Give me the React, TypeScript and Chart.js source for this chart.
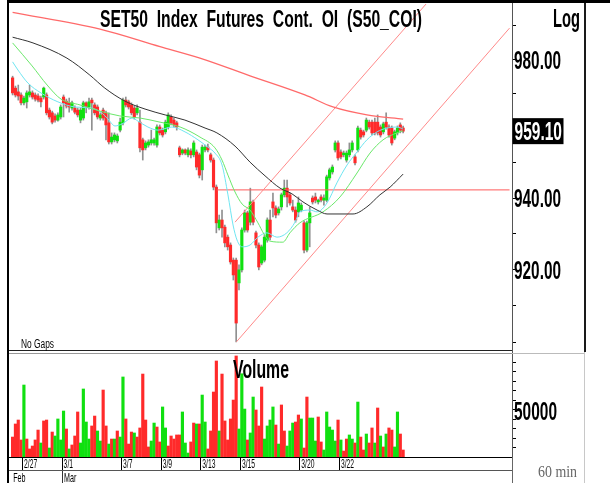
import React, { useEffect, useRef } from 'react';
import { Chart, registerables } from 'chart.js';

Chart.register(...registerables);

// ---------- data (hourly bars) ----------
const OPEN = [
  974.6, 971.6, 970.5, 969.6, 967.3, 967.6, 969.6, 970.2, 969.6, 969.3,
  968.7, 969.0, 969.6, 965.2, 964.4, 963.5, 962.3, 963.2, 969.0, 967.8,
  967.3, 965.8, 965.8, 965.2, 962.3, 962.9, 967.3, 966.1, 968.1, 966.7,
  966.1, 962.9, 965.2, 964.4, 961.5, 956.0, 956.6, 956.3, 959.4, 961.5,
  968.1, 967.6, 966.7, 965.8, 964.4, 961.7, 956.6, 954.3, 955.1, 955.7,
  955.7, 955.1, 960.3, 959.4, 958.9, 960.3, 963.2, 962.3, 961.5, 954.3,
  952.8, 953.7, 952.3, 953.4, 952.3, 953.1, 952.3, 948.0, 953.7, 954.5,
  952.3, 950.8, 943.1, 931.6, 933.8, 931.8, 929.0, 926.8, 922.6, 922.6,
  916.3, 919.9, 931.0, 935.8, 933.2, 938.9, 930.2, 926.8, 921.8, 922.6,
  928.2, 933.8, 938.9, 937.2, 935.8, 937.5, 940.9, 942.8, 940.9, 937.5,
  936.6, 936.1, 936.6, 933.0, 925.4, 933.0, 940.0, 940.3, 938.9, 940.3,
  939.4, 939.4, 945.7, 947.4, 953.7, 955.7, 953.1, 952.3, 950.8, 952.3,
  953.7, 951.7, 953.7, 959.4, 958.9, 959.4, 961.7, 961.7, 961.7, 961.7,
  960.3, 958.9, 961.7, 960.3, 960.0, 957.1, 958.6, 960.9, 960.0,
];
const HIGH = [
  975.1, 972.2, 972.5, 970.2, 969.3, 970.8, 972.5, 970.8, 970.2, 969.9,
  969.3, 971.9, 970.2, 965.8, 964.9, 964.1, 964.4, 966.7, 969.6, 968.4,
  968.7, 967.8, 966.4, 965.8, 965.8, 967.8, 967.6, 968.7, 968.7, 967.3,
  966.7, 964.4, 965.8, 964.9, 964.4, 958.6, 958.6, 958.3, 962.9, 968.7,
  969.0, 968.1, 967.3, 966.4, 966.7, 965.2, 957.1, 956.3, 956.6, 959.4,
  957.1, 960.9, 960.9, 960.0, 962.3, 964.4, 963.8, 962.9, 962.0, 954.8,
  954.0, 954.0, 954.3, 954.0, 956.3, 953.7, 952.8, 955.1, 955.1, 955.4,
  952.8, 951.4, 943.7, 935.2, 936.6, 932.4, 929.6, 927.4, 923.2, 923.2,
  921.3, 931.6, 936.6, 936.3, 942.8, 939.4, 930.7, 927.4, 926.8, 929.6,
  934.4, 936.6, 941.4, 937.8, 937.5, 941.4, 945.1, 945.1, 941.4, 939.4,
  937.5, 940.3, 938.6, 933.5, 933.5, 937.5, 940.6, 941.4, 939.7, 940.9,
  940.9, 946.5, 948.5, 949.4, 956.3, 956.3, 953.7, 953.4, 953.4, 955.7,
  956.3, 952.3, 960.6, 960.0, 959.4, 962.9, 962.3, 962.3, 962.9, 963.8,
  960.9, 961.7, 964.4, 960.9, 960.6, 959.4, 960.6, 961.5, 960.6,
];
const LOW = [
  969.6, 969.0, 968.1, 966.7, 966.7, 965.8, 969.0, 968.4, 967.8, 967.6,
  966.1, 968.4, 963.8, 962.6, 961.2, 961.7, 962.0, 962.6, 963.2, 965.8,
  964.6, 965.2, 964.1, 963.2, 961.5, 962.3, 964.4, 965.5, 959.4, 963.8,
  962.6, 962.3, 962.3, 956.6, 955.4, 955.4, 956.0, 955.7, 958.9, 960.9,
  966.1, 965.5, 963.8, 962.6, 963.8, 953.1, 950.8, 953.7, 954.5, 955.1,
  955.1, 954.5, 958.0, 957.4, 958.3, 959.7, 960.9, 960.3, 959.4, 951.7,
  952.3, 952.3, 951.7, 951.4, 951.7, 948.0, 945.7, 945.1, 953.1, 953.1,
  950.2, 942.3, 930.2, 931.0, 929.0, 926.3, 925.4, 921.5, 917.1, 900.2,
  914.4, 919.3, 930.4, 930.4, 932.4, 932.4, 926.0, 919.9, 921.3, 922.1,
  927.6, 928.2, 934.7, 934.4, 935.2, 936.6, 940.3, 937.5, 938.0, 936.1,
  933.2, 934.7, 936.1, 924.6, 924.9, 926.3, 938.3, 938.6, 938.3, 938.9,
  938.0, 938.9, 945.1, 946.8, 953.1, 950.8, 951.1, 951.7, 950.2, 951.7,
  953.1, 949.4, 953.1, 956.8, 957.4, 958.9, 959.7, 958.0, 958.0, 958.0,
  957.4, 958.3, 959.7, 957.4, 955.1, 956.6, 958.0, 958.6, 958.6,
];
const CLOSE = [
  970.2, 969.6, 969.3, 967.3, 968.7, 970.2, 970.5, 969.0, 968.4, 968.1,
  967.6, 971.6, 964.4, 963.2, 961.7, 962.3, 963.8, 966.1, 967.3, 966.4,
  966.1, 967.3, 964.6, 963.8, 965.2, 967.3, 966.1, 967.6, 967.3, 964.4,
  963.2, 963.8, 962.9, 960.9, 956.0, 957.4, 958.0, 957.7, 961.7, 968.1,
  966.7, 966.1, 964.4, 963.2, 965.8, 954.3, 953.7, 955.7, 956.0, 956.6,
  956.6, 960.3, 958.6, 958.0, 961.7, 963.8, 961.5, 960.9, 960.3, 952.3,
  953.7, 952.8, 953.7, 952.3, 955.7, 948.8, 946.5, 954.5, 954.5, 953.7,
  950.8, 943.1, 933.0, 933.8, 931.6, 927.4, 926.3, 922.1, 918.5, 905.3,
  919.9, 931.0, 935.8, 931.0, 938.9, 933.2, 926.8, 920.7, 926.3, 929.0,
  933.8, 929.0, 937.2, 935.2, 936.9, 940.9, 942.8, 940.3, 938.6, 936.6,
  933.8, 938.6, 938.0, 925.4, 933.0, 935.8, 938.9, 939.4, 939.4, 939.4,
  940.0, 946.0, 948.0, 948.8, 955.7, 951.4, 951.7, 952.8, 952.8, 953.7,
  955.7, 950.0, 960.0, 957.4, 958.0, 962.3, 960.3, 958.6, 958.6, 958.6,
  958.0, 961.2, 960.3, 958.0, 955.7, 958.9, 960.0, 959.4, 959.1,
];
const VOLUME = [
  21100, 34900, 39100, 18000, 76100, 19000, 8500, 11600, 18000, 28500,
  14800, 38100, 39100, 9500, 26400, 22200, 40200, 18000, 48600, 29600,
  8500, 12700, 22200, 47600, 14800, 71900, 37000, 19000, 32800, 43300,
  27500, 16900, 70800, 32800, 13700, 19000, 19000, 27500, 21100, 84600,
  40200, 13700, 26400, 25400, 21100, 30700, 87700, 39100, 10600, 16900,
  35900, 31700, 15900, 52900, 30700, 11600, 22200, 19000, 23300, 23300,
  47600, 14800, 4200, 15900, 35900, 34900, 34900, 65500, 37000, 8500,
  27500, 68700, 101500, 27500, 87700, 38100, 18000, 40200, 60200, 106800,
  29600, 88000, 50700, 18000, 25400, 63400, 49700, 32800, 74000, 19000,
  32800, 39100, 52900, 33800, 13700, 55000, 27500, 11600, 27500, 35900,
  37000, 44400, 40200, 9500, 63400, 41200, 41200, 16900, 42300, 15900,
  7400, 47600, 31700, 28500, 16900, 39100, 18000, 6300, 19000, 23300,
  19000, 14800, 58100, 21100, 7400, 24300, 14800, 30700, 14800, 51800,
  22200, 10600, 24300, 30700, 28500, 10600, 47600, 24300, 7400,
];
// g = up bar, r = down bar (colour of each volume bar)
const VOLUME_DIR = (
  'rrrrgrrrrr' + 'grrgrggggr' + 'grrrggggrr' + 'ggrrgrgrgg' + 'rrrgrrrrrg' +
  'grrggrrrrr' + 'gggrrgrggr' + 'rrrgrrrrrr' + 'gggrggrrrg' + 'gggrgrrggg' +
  'rrgrrgggrr' + 'gggggrgrrg' + 'grgrrgrrgr' + 'grgrrggrr'
).split('');

// moving averages, sampled (bar index -> value)
const MA_LONG_X = [0, 30.9, 52.1, 66.2, 83.9, 103.3, 113.2, 125.2, 138];
const MA_LONG_Y = [994.0, 989.0, 983.8, 980.4, 975.2, 969.6, 966.1, 963.8, 962.6];
const MA_MID_X = [0, 7.2, 19.2, 27.3, 32.6, 39.7, 46.8, 53.9, 60.9, 68.0, 72.2, 78.6, 83.9, 89.2, 94.5, 98.7, 102.6, 107.6, 111.1, 120.3, 125.2, 129.8, 133.4, 138];
const MA_MID_Y = [986.6, 984.9, 980.4, 975.4, 971.6, 967.8, 965.5, 963.8, 962.3, 960.0, 958.6, 954.8, 950.2, 946.3, 942.8, 941.2, 938.9, 936.6, 935.5, 935.5, 937.5, 940.9, 943.1, 946.8];
const MA_GREEN_X = [0, 6.9, 12.2, 17.1, 23.8, 30.9, 37.9, 45.0, 52.1, 59.2, 66.2, 71.5, 74.0, 76.1, 78.6, 81.1, 83.9, 86.7, 88.8, 90.9, 95.5, 98.0, 101.5, 109.7, 115.7, 121.7, 126.3, 130.9, 135.8, 138];
const MA_GREEN_Y = [984.9, 978.1, 972.5, 968.4, 966.7, 964.9, 963.5, 962.9, 961.7, 960.3, 957.4, 954.3, 950.8, 946.5, 941.7, 938.3, 936.6, 933.0, 929.9, 927.9, 927.6, 930.2, 933.0, 936.1, 940.3, 947.1, 952.8, 956.6, 958.6, 959.2];
const MA_CYAN_X = [0, 1.9, 5.4, 10.0, 16.0, 22.0, 27.7, 31.2, 33.7, 36.2, 38.7, 42.2, 44.3, 47.8, 51.4, 56.3, 60.9, 65.5, 69.0, 71.5, 74.0, 76.1, 77.9, 79.3, 81.1, 83.9, 86.7, 89.9, 93.4, 96.9, 99.8, 101.5, 105.1, 107.6, 111.1, 114.6, 118.2, 121.7, 125.2, 128.8, 132.3, 135.8, 138];
const MA_CYAN_Y = [979.3, 976.9, 973.1, 970.2, 967.6, 966.1, 965.8, 964.6, 962.6, 960.6, 961.2, 962.9, 962.0, 960.3, 959.4, 960.3, 958.9, 956.6, 954.5, 952.8, 949.4, 940.9, 932.4, 928.2, 926.3, 926.8, 929.0, 930.2, 929.0, 930.2, 933.2, 936.1, 936.6, 936.1, 938.6, 944.3, 949.4, 953.1, 956.6, 958.9, 960.0, 960.3, 959.7];

// drawn trend lines (bar index -> price)
const TREND_LOW_X = [79.1, 175.6];
const TREND_LOW_Y = [900.2, 989.3];
const TREND_HIGH_X = [78.6, 146.1];
const TREND_HIGH_Y = [933.2, 996.5];
const LEVEL_X = [72.1, 175.6];
const LEVEL_Y = [942.3, 942.3];

// axes
const DATE_TICKS = [3.5, 17.5, 38.5, 52.5, 66.5, 80.5, 101.5, 115.5];
const DATE_LABELS = ['2/27', '3/1', '3/7', '3/9', '3/13', '3/15', '3/20', '3/22'];
const MONTH_TICKS = [-0.5, 17.5];
const MONTH_LABELS = ['Feb', 'Mar'];
const PRICE_TICKS = [900, 910, 920, 930, 940, 950, 960, 970, 980, 990];
const PRICE_LABELS = [980, 940, 920];
const VOL_TICKS = [10000, 20000, 30000, 40000, 50000, 60000, 70000, 80000, 90000, 100000];
const VOL_LABELS = [50000];

// ---------- layout constants ----------
const W = 610;
const H = 483;
const X_MIN = -1.272;
const X_MAX = 176.47;
const P_MIN = 897.45;
const P_MAX = 996.8;
const V_MAX = 111000;
const UP = '#10e010';
const DOWN = '#ff2a2a';
const SANS = '"Liberation Sans", Arial, sans-serif';

function drawText(ctx: any, text: string, x: number, y: number, font: string, color: string, width?: number, sx?: number) {
  ctx.save();
  ctx.font = font;
  ctx.fillStyle = color;
  ctx.textAlign = 'left';
  ctx.textBaseline = 'alphabetic';
  const natural = ctx.measureText(text).width;
  const s = width ? width / natural : sx || 1;
  ctx.translate(x, y);
  ctx.scale(s, 1);
  ctx.fillText(text, 0, 0);
  ctx.restore();
}

function hline(ctx: any, x1: number, x2: number, y: number, color: string) {
  ctx.save();
  ctx.strokeStyle = color;
  ctx.lineWidth = 1;
  ctx.beginPath();
  ctx.moveTo(x1, y);
  ctx.lineTo(x2, y);
  ctx.stroke();
  ctx.restore();
}

function vline(ctx: any, x: number, y1: number, y2: number, color: string) {
  ctx.save();
  ctx.strokeStyle = color;
  ctx.lineWidth = 1;
  ctx.beginPath();
  ctx.moveTo(x, y1);
  ctx.lineTo(x, y2);
  ctx.stroke();
  ctx.restore();
}

const pts = (xs: number[], ys: number[]) => xs.map((x, i) => ({ x, y: ys[i] }));

export default function App() {
  const ref = useRef<HTMLCanvasElement>(null);

  useEffect(() => {
    const canvas = ref.current;
    if (!canvas) return;
    const idx = CLOSE.map((_, i) => i);
    const wicks = idx.map((i) => ({ x: i, y: [LOW[i], HIGH[i]] }));
    const bodies = idx.map((i) => ({ x: i, y: [OPEN[i], CLOSE[i]] }));
    const bodyColors = idx.map((i) => (CLOSE[i] >= OPEN[i] ? UP : DOWN));
    const vols = idx.map((i) => ({ x: i, y: VOLUME[i] }));
    const volColors = idx.map((i) => (VOLUME_DIR[i] === 'g' ? UP : DOWN));

    const decor = {
      id: 'decor',
      beforeDraw(chart: any) {
        const c = chart.ctx;
        c.save();
        c.fillStyle = '#fff';
        c.fillRect(0, 0, chart.width, chart.height);
        c.restore();
      },
      afterDraw(chart: any) {
        const c = chart.ctx;
        const a = chart.chartArea;
        const ys = chart.scales.y;
        const yv = chart.scales.yv;
        const xs = chart.scales.x;
        const xm = chart.scales.xm;
        const sep = ys.bottom;

        // frame
        c.save();
        c.fillStyle = '#000';
        c.fillRect(8, 0, W - 8, 3);
        c.fillRect(7, 0, 2, H);
        c.fillStyle = '#1a1a1a';
        c.fillRect(584, 3, 2, sep - 3);
        c.fillStyle = '#c8c8c8';
        c.fillRect(584, sep, 1, H - sep);
        c.restore();

        // panel separator (double line)
        hline(c, a.left, a.right, Math.round(sep) - 1.5, '#222');
        hline(c, a.left, a.right, Math.round(sep) + 1.5, '#999');
        hline(c, a.right, 584, Math.round(sep) + 1.5, '#bbb');
        vline(c, Math.round(a.right) + 0.5, a.bottom, H, '#666');

        // titles
        drawText(c, 'SET50  Index  Futures  Cont.  OI  (S50_COI)', 100, 27, `bold 24px ${SANS}`, '#000', 322);
        drawText(c, 'Log', 553, 27, `bold 25px ${SANS}`, '#000', 27);
        drawText(c, 'Volume', 233, 378, `bold 25px ${SANS}`, '#000', 56);
        drawText(c, 'No Gaps', 21, 347.5, `12px ${SANS}`, '#000', 33);
        drawText(c, '60 min', 538, 477, '16px "Liberation Serif", serif', '#666', 39);

        // right axis labels
        PRICE_LABELS.forEach((v) => {
          const p = ys.getPixelForValue(v);
          drawText(c, v.toFixed(2), 514, p + 9, `bold 25px ${SANS}`, '#000', 47);
        });
        VOL_LABELS.forEach((v) => {
          const p = yv.getPixelForValue(v);
          drawText(c, String(v), 514, p + 10, `bold 25px ${SANS}`, '#000', 43);
        });

        // last price box
        const last = CLOSE[CLOSE.length - 1];
        const lp = ys.getPixelForValue(last);
        c.save();
        c.fillStyle = '#000';
        c.fillRect(512.5, lp - 13, 51, 26);
        c.restore();
        drawText(c, last.toFixed(2), 514.5, lp + 9, `bold 25px ${SANS}`, '#fff', 47.5);

        // date / month labels
        DATE_TICKS.forEach((v, i) => {
          const px = xs.getPixelForValue(v);
          drawText(c, DATE_LABELS[i], px + 1.5, 468, `13px ${SANS}`, '#000', undefined, 0.52);
        });
        MONTH_TICKS.forEach((v, i) => {
          const px = xm.getPixelForValue(v);
          drawText(c, MONTH_LABELS[i], px + 2, 482, `13px ${SANS}`, '#000', undefined, 0.55);
        });
      },
    };

    const lineDs = (label: string, xs: number[], ys: number[], color: string, width: number, smooth: boolean) => ({
      type: 'line',
      label,
      data: pts(xs, ys),
      borderColor: color,
      backgroundColor: color,
      borderWidth: width,
      pointRadius: 0,
      fill: false,
      tension: smooth ? 0.4 : 0,
      cubicInterpolationMode: smooth ? 'monotone' : 'default',
      xAxisID: 'x',
      yAxisID: 'y',
      order: 1,
    });

    const chart = new Chart(canvas, {
      type: 'bar',
      data: {
        datasets: [
          lineDs('MA long', MA_LONG_X, MA_LONG_Y, '#ff6a6a', 1.3, true),
          lineDs('MA mid', MA_MID_X, MA_MID_Y, '#333333', 1, true),
          lineDs('MA green', MA_GREEN_X, MA_GREEN_Y, '#6be86b', 1, true),
          lineDs('MA cyan', MA_CYAN_X, MA_CYAN_Y, '#6fe6f2', 1, true),
          lineDs('Trend low', TREND_LOW_X, TREND_LOW_Y, '#ff8a8a', 1, false),
          lineDs('Trend high', TREND_HIGH_X, TREND_HIGH_Y, '#ff8a8a', 1, false),
          lineDs('Level', LEVEL_X, LEVEL_Y, '#ff5a5a', 1, false),
          {
            label: 'Wicks',
            data: wicks,
            backgroundColor: '#909090',
            barThickness: 1,
            grouped: false,
            xAxisID: 'x',
            yAxisID: 'y',
            order: 20,
          },
          {
            label: 'Bodies',
            data: bodies,
            backgroundColor: bodyColors,
            barThickness: 2.5,
            minBarLength: 1,
            grouped: false,
            xAxisID: 'x',
            yAxisID: 'y',
            order: 10,
          },
          {
            label: 'Volume',
            data: vols,
            backgroundColor: volColors,
            barThickness: 2.5,
            grouped: false,
            xAxisID: 'x',
            yAxisID: 'yv',
            order: 10,
          },
        ] as any,
      },
      options: {
        responsive: false,
        animation: false,
        devicePixelRatio: 1,
        events: [],
        layout: { padding: { left: 9, top: 3, right: 0, bottom: 0 } },
        plugins: {
          legend: { display: false },
          tooltip: { enabled: false },
          title: { display: false },
        },
        scales: {
          x: {
            type: 'linear',
            position: 'bottom',
            min: X_MIN,
            max: X_MAX,
            bounds: 'data',
            offset: false,
            afterBuildTicks: (s: any) => {
              s.ticks = DATE_TICKS.map((v) => ({ value: v }));
            },
            afterFit: (s: any) => {
              s.height = 13;
            },
            ticks: { display: false },
            grid: { display: true, drawOnChartArea: false, drawTicks: true, tickLength: 13, color: '#000', lineWidth: 1, offset: false },
            border: { display: true, color: '#000', width: 1 },
          },
          xm: {
            type: 'linear',
            position: 'bottom',
            min: X_MIN,
            max: X_MAX,
            bounds: 'data',
            offset: false,
            afterBuildTicks: (s: any) => {
              s.ticks = MONTH_TICKS.map((v) => ({ value: v }));
            },
            afterFit: (s: any) => {
              s.height = 13;
            },
            ticks: { display: false },
            grid: {
              display: true,
              drawOnChartArea: false,
              drawTicks: true,
              tickLength: 13,
              offset: false,
              color: (c: any) => (c.tick && c.tick.value < 0 ? 'rgba(0,0,0,0)' : '#333'),
            },
            border: { display: true, color: '#555', width: 1 },
          },
          y: {
            type: 'logarithmic',
            position: 'right',
            stack: 'panes',
            stackWeight: 349,
            min: P_MIN,
            max: P_MAX,
            bounds: 'data',
            beginAtZero: false,
            offset: false,
            afterBuildTicks: (s: any) => {
              s.ticks = PRICE_TICKS.map((v) => ({ value: v }));
            },
            afterFit: (s: any) => {
              s.width = W - 512;
            },
            ticks: { display: false },
            grid: { display: true, drawOnChartArea: false, drawTicks: true, tickLength: 4, color: '#000' },
            border: { display: true, color: '#555', width: 1, dash: [2, 2] },
          },
          yv: {
            type: 'linear',
            position: 'right',
            stack: 'panes',
            stackWeight: 105,
            min: 0,
            max: V_MAX,
            bounds: 'data',
            offset: false,
            afterBuildTicks: (s: any) => {
              s.ticks = VOL_TICKS.map((v) => ({ value: v }));
            },
            afterFit: (s: any) => {
              s.width = W - 512;
            },
            ticks: { display: false },
            grid: { display: true, drawOnChartArea: false, drawTicks: true, tickLength: 4, color: '#000' },
            border: { display: true, color: '#555', width: 1, dash: [2, 2] },
          },
        },
      } as any,
      plugins: [decor],
    });

    return () => chart.destroy();
  }, []);

  return (
    <div style={{ position: 'absolute', left: 0, top: 0, width: W, height: H, background: '#fff' }}>
      <canvas ref={ref} width={W} height={H} style={{ width: W, height: H, display: 'block' }} />
    </div>
  );
}
